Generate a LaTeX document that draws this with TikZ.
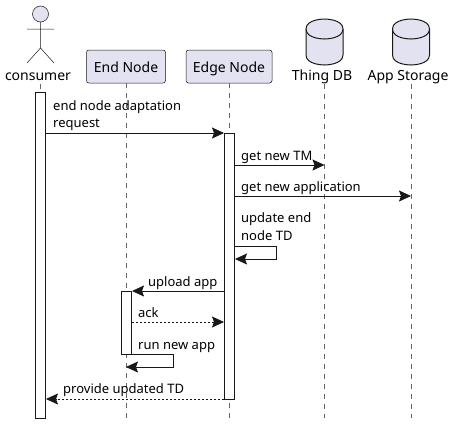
\documentclass[tikz,border=0pt]{standalone}
\usepackage{fontspec}
\setmainfont{Noto Sans}
\usetikzlibrary{arrows.meta}
\usetikzlibrary{calc}
\definecolor{partfill}{HTML}{E2E2F0}
\definecolor{partline}{HTML}{181818}

\begin{document}
\begin{tikzpicture}[
        x=1pt, y=-1pt,
        every node/.style={text=black, inner sep=0pt},
        partname/.style={font=\fontsize{14}{17}\selectfont},
        participant/.style={partname, draw=partline, fill=partfill, rounded corners=2.5pt, line width=0.5pt, minimum height=33pt, text height=12pt, text depth=0pt},
        actorpart/.style={draw=partline, line width=0.5pt},
        dbpart/.style={draw=partline, fill=partfill, line width=1pt},
        lifeline/.style={dash pattern=on 5pt off 5pt, line width=0.5pt, draw=gray!80!black},
        activation/.style={draw=partline, fill=white, line width=1pt, minimum width=10pt},
        message/.style={-{Stealth[length=12pt, width=11pt, inset=2pt]}, line width=0.75pt, draw=partline},
        reply/.style={message, dash pattern=on 2pt off 2pt},
        msglabel/.style={font=\fontsize{13}{17.5}\selectfont, anchor=base west, align=left},
    ]
        \useasboundingbox (0,0) rectangle (454,423);

        % --- participants ---
        \node[partname, anchor=base] (consumer) at (38,80) {consumer};
        \node[participant, minimum width=79pt] (endnode) at (126,66.5) {End Node};
        \node[participant, minimum width=86pt] (edgenode) at (229,66.5) {Edge Node};
        \node[partname, anchor=base] (thingdb) at (322,80) {Thing DB};
        \node[partname, anchor=base] (appstorage) at (408,80) {App Storage};

        % --- actor figure ---
        \draw[actorpart, fill=partfill] (40.5,14) circle (8);
        \draw[actorpart] (40.5,22) -- (40.5,48) (27,29) -- (54,29) (27,63) -- (40.5,48) -- (54,63);

        % --- databases ---
        \foreach \x in {324.5, 411} {
            \draw[dbpart] (\x-18.5,29) .. controls (\x-18.5,19) and (\x,19) .. (\x,19)
                .. controls (\x,19) and (\x+18.5,19) .. (\x+18.5,29) -- (\x+18.5,55)
                .. controls (\x+18.5,65) and (\x,65) .. (\x,65)
                .. controls (\x,65) and (\x-18.5,65) .. (\x-18.5,55) -- cycle;
            \draw[dbpart] (\x-18.5,29) .. controls (\x-18.5,39) and (\x,39) .. (\x,39)
                .. controls (\x,39) and (\x+18.5,39) .. (\x+18.5,29);
        }

        % --- lifelines ---
        \coordinate (lineend) at (0,418);
        \foreach \part/\x/\y in {consumer/40.5/84, endnode/126/83, edgenode/229/83, thingdb/324.5/84, appstorage/411/84} {
            \coordinate (\part-life) at (\x,\y);
            \draw[lifeline] (\part-life) -- (\part-life |- lineend);
        }

        % --- activations ---
        \node[activation, minimum height=326pt] (consumerbar) at (40.5,255) {};
        \node[activation, minimum height=266pt] (edgebar) at (229.5,266) {};
        \node[activation, minimum height=63pt] (endbar) at (126.5,322.5) {};

        % --- messages ---
        \coordinate (dbstop) at (thingdb-life |- 0,165);
        \coordinate (storestop) at (appstorage-life |- 0,196);
        \coordinate (selfedge) at (276.5,246);
        \coordinate (selfedgeb) at (276.5,259);
        \coordinate (selfend) at (173.5,354);
        \coordinate (selfendb) at (173.5,367);

        \draw[message] (consumerbar.east |- 0,133) -- (edgebar.west |- 0,133);
        \draw[message] (edgebar.east |- dbstop) -- (dbstop);
        \draw[message] (edgebar.east |- storestop) -- (storestop);
        \draw[message] (edgebar.east |- selfedge) -- (selfedge) -- (selfedgeb) -- (edgebar.east |- selfedgeb);
        \draw[message] (edgebar.west |- 0,291) -- (endbar.east |- 0,291);
        \draw[reply] (endbar.east |- 0,322) -- (edgebar.west |- 0,322);
        \draw[message] (endbar.east |- selfend) -- (selfend) -- (selfendb) -- (endnode-life |- selfendb);
        \draw[reply] (edgebar.west |- 0,399) -- (consumerbar.east |- 0,399);

        % --- labels ---
        \node[msglabel] (adaptlabel) at (53,127.5) {end node adaptation\\request};
        \node[msglabel] (tmlabel) at (241,160) {get new TM};
        \node[msglabel] (applabel) at (241,191) {get new application};
        \node[msglabel] (updatelabel) at (241,240) {update end\\node TD};
        \node[msglabel] (uploadlabel) at (148,286) {upload app};
        \node[msglabel] (acklabel) at (138,317) {ack};
        \node[msglabel] (runlabel) at (138,349) {run new app};
        \node[msglabel] (providelabel) at (63,393) {provide updated TD};
    \end{tikzpicture}
\end{document}
